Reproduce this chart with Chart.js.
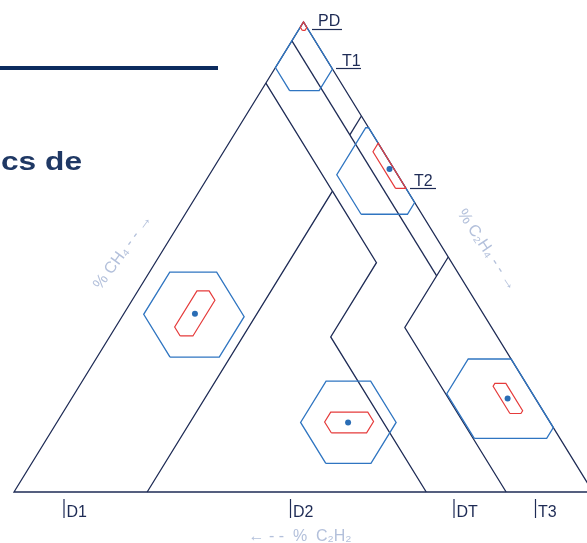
<!DOCTYPE html>
<html>
<head>
<meta charset="utf-8">
<script src="https://cdn.jsdelivr.net/npm/chart.js@4.4.0/dist/chart.umd.min.js"></script>
<style>
  html, body { margin: 0; padding: 0; background: #fff; }
  #wrap { width: 587px; height: 543px; }
</style>
</head>
<body>
<div id="wrap"><canvas id="duval" width="587" height="543"></canvas></div>
<script>
// Duval triangle 1 - every point is [CH4 %, C2H4 %], C2H2 % is what is left to 100
var OUTLINE = [[100, 0], [0, 0], [0, 100], [100, 0]];
var T1_DT   = [[96, 0], [46, 50]];              // C2H2 = 4
var T1_T2   = [[80, 20], [76, 20]];             // C2H4 = 20
var T2_T3   = [[50, 50], [35, 50], [0, 85]];    // C2H4 = 50 then C2H2 = 15
var D1_EDGE = [[87, 0], [64, 23], [0, 23]];     // C2H2 = 13 then C2H4 = 23
var D2_EDGE = [[64, 23], [48.8, 38.2], [33, 38.2], [0, 71.2]];

// measured samples (the PD one has no visible dot)
var SAMPLES     = ['PD', 'T2', 'D1', 'D2', 'T3'];
var SAMPLE_CH4  = [null, 68.7, 37.9, 14.8, 19.9];
var SAMPLE_C2H4 = [null, 30.5, 12.3, 50.3, 75.3];

// uncertainty boxes: [CH4 min, CH4 max, C2H4 min, C2H4 max, C2H2 min, C2H2 max]
var WIDE_BOX = [
    [85.4, 100, 0, 10, 0, 9.7],
    [59.1, 77.5, 22, 38.4, 0, 10.5],
    [28.7, 46.8, 3.5, 21.1, 41.6, 58.7],
    [6.1, 23.6, 42.1, 58.6, 26.6, 43.1],
    [11.4, 28.3, 64.3, 86.3, 0, 14.8]
];
var NARROW_BOX = [
    [98.2, 100, 0, 1.15, 0, 1.1],
    [64.6, 76, 25.8, 35.3, 0, 1.8],
    [33.2, 42.8, 10.2, 14.3, 44.9, 54.7],
    [12.6, 17.0, 46.2, 54.6, 30.4, 38.9],
    [16.7, 23.1, 71.5, 79.2, 3.5, 6.0]
];

var NAVY = '#1e2b55';
var BLUE = '#2f75c1';
var RED = '#e53b3b';

// ternary -> plot plane (x = C2H4 + CH4/2, y = CH4)
function toXY(p) {
    return { x: p[1] + p[0] / 2, y: p[0] };
}

function clip(poly, f) {
    var out = [];
    for (var i = 0; i < poly.length; i++) {
        var p = poly[i], q = poly[(i + 1) % poly.length];
        var fp = f(p), fq = f(q);
        if (fp >= 0) out.push(p);
        if ((fp >= 0) !== (fq >= 0)) {
            var t = fp / (fp - fq);
            out.push([p[0] + t * (q[0] - p[0]), p[1] + t * (q[1] - p[1])]);
        }
    }
    return out;
}

// region where all three gases stay inside their ranges
function boxPolygon(b) {
    var poly = [[b[0], b[2]], [b[0], b[3]], [b[1], b[3]], [b[1], b[2]]];
    poly = clip(poly, function(p) { return p[0] + p[1] - (100 - b[5]); });
    poly = clip(poly, function(p) { return (100 - b[4]) - p[0] - p[1]; });
    poly.push(poly[0]);
    return poly.map(toXY);
}

function lineSet(points, color, width, order) {
    return {
        data: points,
        showLine: true,
        borderColor: color,
        borderWidth: width,
        pointRadius: 0,
        fill: false,
        order: order,
        clip: false
    };
}

var datasets = [];
[OUTLINE, T1_DT, T1_T2, T2_T3, D1_EDGE, D2_EDGE].forEach(function(l) {
    datasets.push(lineSet(l.map(toXY), NAVY, 1.3, 3));
});
WIDE_BOX.forEach(function(b) {
    datasets.push(lineSet(boxPolygon(b), BLUE, 1.3, 2));
});
NARROW_BOX.forEach(function(b) {
    datasets.push(lineSet(boxPolygon(b), RED, 1.2, 1));
});
var dots = [];
SAMPLES.forEach(function(name, i) {
    if (SAMPLE_CH4[i] !== null) dots.push(toXY([SAMPLE_CH4[i], SAMPLE_C2H4[i]]));
});
datasets.push({
    data: dots,
    pointRadius: 3,
    pointBackgroundColor: '#2a6db5',
    pointBorderWidth: 0,
    order: 0
});

var textPlugin = {
    id: 'texts',
    afterDraw: function(chart) {
        var c = chart.ctx;
        c.save();
        // slide header remains
        c.fillStyle = '#0c2b5e';
        c.fillRect(0, 66, 218, 4);
        c.fillStyle = '#1f3864';
        c.font = 'bold 26px "Liberation Sans", Arial, sans-serif';
        c.textBaseline = 'alphabetic';
        var w = c.measureText('cs de').width;
        c.save();
        c.translate(1, 170);
        c.scale(81 / w, 1);
        c.fillText('cs de', 0, 0);
        c.restore();

        // zone labels with leader lines
        c.strokeStyle = NAVY;
        c.fillStyle = NAVY;
        c.lineWidth = 1.2;
        c.font = '16px "Liberation Sans", Arial, sans-serif';
        c.textAlign = 'left';
        [['PD', 318, 26, 312, 342, 29.5],
         ['T1', 342, 66, 336, 361, 68.5],
         ['T2', 414, 186, 410, 436, 188.5]].forEach(function(l) {
            c.fillText(l[0], l[1], l[2]);
            c.beginPath();
            c.moveTo(l[3], l[5]);
            c.lineTo(l[4], l[5]);
            c.stroke();
        });
        c.font = '16px "Liberation Sans", Arial, sans-serif';
        [['D1', 64], ['D2', 290.5], ['DT', 454], ['T3', 535.5]].forEach(function(l) {
            c.beginPath();
            c.moveTo(l[1], 499);
            c.lineTo(l[1], 518);
            c.stroke();
            c.fillText(l[0], l[1] + 2.5, 517);
        });

        // axis titles
        c.fillStyle = '#b3c0db';
        c.font = '16px "Liberation Sans", Arial, sans-serif';
        c.textAlign = 'center';
        c.textBaseline = 'middle';
        c.save();
        c.translate(123, 252);
        c.rotate(-54 * Math.PI / 180);
        c.fillText('% CH\u2084 - - \u2192', 0, 0);
        c.restore();
        c.save();
        c.translate(487, 250);
        c.rotate(56 * Math.PI / 180);
        c.fillText('% C\u2082H\u2084 - - \u2192', 0, 0);
        c.restore();
        c.fillText('\u2190 - -  %  C\u2082H\u2082', 300, 537);
        c.restore();
    }
};

var ctx = document.getElementById('duval').getContext('2d');
var duvalChart = new Chart(ctx, {
    type: 'scatter',
    data: { datasets: datasets },
    options: {
        responsive: false,
        animation: false,
        devicePixelRatio: 1,
        layout: { padding: 0, autoPadding: false },
        scales: {
            x: { type: 'linear', min: -2.418, max: 98.964, display: false },
            y: { type: 'linear', min: -10.851, max: 104.681, display: false }
        },
        plugins: {
            legend: { display: false },
            tooltip: { enabled: false }
        }
    },
    plugins: [textPlugin]
});
</script>
</body>
</html>
